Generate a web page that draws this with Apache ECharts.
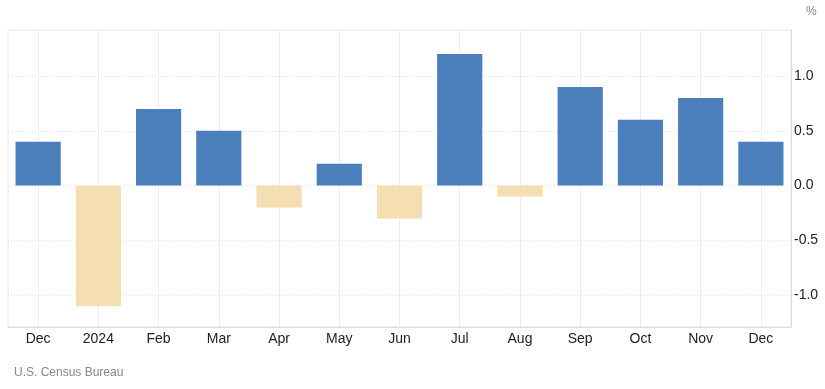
<!DOCTYPE html>
<html>
<head>
<meta charset="utf-8">
<script src="https://cdn.jsdelivr.net/npm/echarts@6/dist/echarts.min.js"></script>
<style>
html,body{margin:0;padding:0;background:#fff;}
#c{width:825px;height:389px;}
</style>
</head>
<body>
<div id="c"></div>
<script>
const categories = ['Dec','2024','Feb','Mar','Apr','May','Jun','Jul','Aug','Sep','Oct','Nov','Dec'];
const values = [0.4,-1.1,0.7,0.5,-0.2,0.2,-0.3,1.2,-0.1,0.9,0.6,0.8,0.4];
const yTicks = [-1.0,-0.5,0.0,0.5,1.0];
const unitLabel = '%';
const sourceText = 'U.S. Census Bureau';

const FONT = 'Liberation Sans, Arial, sans-serif';
const chart = echarts.init(document.getElementById('c'), null, {renderer:'canvas'});
const centerIdx = categories.map((c,i)=>i);

chart.setOption({
  animation:false,
  backgroundColor:'#fff',
  grid:{left:8,right:34,top:30,bottom:62,show:true,borderColor:'#e6e6e6',borderWidth:1,containLabel:false},
  xAxis:[{
    type:'category',
    data:categories,
    boundaryGap:true,
    axisLine:{show:true,onZero:false,lineStyle:{color:'#dcdcdc'}},
    axisTick:{show:false},
    axisLabel:{color:'#222',fontSize:14,fontFamily:FONT,margin:5,interval:0},
    splitLine:{show:false}
  },{
    type:'value',
    min:-0.5,max:12.5,
    position:'bottom',
    axisLine:{show:false,onZero:false},
    axisLabel:{show:false},
    axisTick:{show:false,customValues:centerIdx},
    splitLine:{show:true,lineStyle:{color:'#ececec',type:'solid',width:1}}
  }],
  yAxis:{
    type:'value',
    position:'right',
    min:-1.29,max:1.42,
    axisLine:{show:true,onZero:false,lineStyle:{color:'#dcdcdc'}},
    axisTick:{show:false,customValues:yTicks},
    axisLabel:{customValues:yTicks,color:'#222',fontSize:14,fontFamily:FONT,margin:3,
      formatter:v=>v.toFixed(1)},
    splitLine:{show:true,lineStyle:{color:'#e2e2e2',type:[1,2]}}
  },
  series:[{
    type:'bar',
    xAxisIndex:0,
    data:values.map(v=>({value:v,itemStyle:{color:v>=0?'#4b7fbb':'#f4deb2'}})),
    barCategoryGap:'25%'
  }],
  graphic:[
    {type:'text',left:806,top:6,style:{text:unitLabel,fill:'#888',font:'12px '+FONT}},
    {type:'text',left:14,top:367,style:{text:sourceText,fill:'#888',font:'12px '+FONT}}
  ]
});
</script>
</body>
</html>
